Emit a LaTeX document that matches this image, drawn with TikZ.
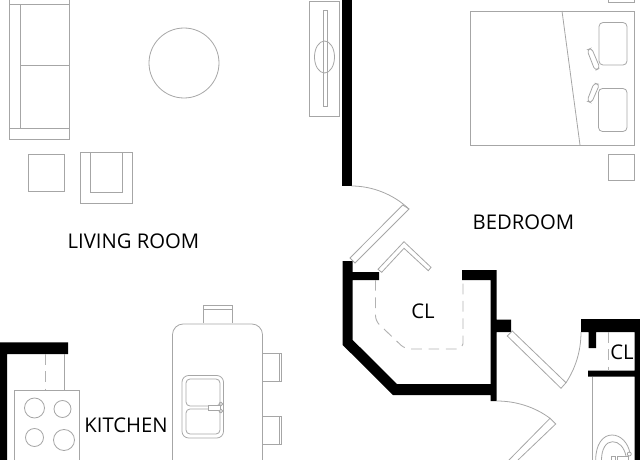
\documentclass[tikz,border=0pt]{standalone}
\usepackage{fontspec}
\setmainfont{Open Sans}
\tikzset{
    furn/.style={draw=black!35, line width=0.6pt},
    wall/.style={fill=black, draw=none},
    hidden/.style={draw=black!30, line width=0.7pt, dash pattern=on 8pt off 5pt},
    roomlabel/.style={font=\fontsize{15.2pt}{17pt}\selectfont, inner sep=0pt}
}
\begin{document}
\begin{tikzpicture}[x=0.75pt, y=-0.75pt]
    \useasboundingbox (0,0) rectangle (640,460);

    % walls
    \fill [wall] (342,0) rectangle (351.5,186);
    \fill [wall] (342.7,261) -- (352.7,261) -- (352.7,272) -- (379,272) -- (379,280) -- (352.7,280)
        -- (352.7,340) -- (397,384) -- (490.7,384) -- (490.7,280) -- (462,280) -- (462,270) -- (496.5,270)
        -- (496.5,319.5) -- (511,319.5) -- (511,332) -- (496.5,332) -- (496.5,401) -- (490.7,401)
        -- (490.7,395) -- (393,395) -- (342.7,345) -- cycle;
    \fill [wall] (581,319) -- (640,319) -- (640,460) -- (634.5,460) -- (634.5,376.7) -- (588,376.7)
        -- (588,370.7) -- (634.5,370.7) -- (634.5,332) -- (596,332) -- (596,348) -- (588.7,348)
        -- (588.7,332) -- (581,332) -- cycle;
    \fill [wall] (0,342.3) -- (68,342.3) -- (68,354) -- (7,354) -- (7,460) -- (0,460) -- cycle;

    % sofa
    \draw [furn] (9.5,0) -- (9.5,139) -- (69.5,139) -- (69.5,0);
    \draw [furn] (9.5,4) -- (69.5,4);
    \draw [furn] (20.5,4) -- (20.5,128);
    \draw [furn] (9.5,128) -- (69.5,128);
    \draw [furn] (21,65) -- (69.5,65);
    % table and chair
    \draw [furn] (184,63) circle [radius=35];
    \draw [furn] (28,154.5) rectangle (64,191);
    \draw [furn] (80,152) rectangle (132,203);
    \draw [furn] (90,152) -- (90,192) -- (122,192) -- (122,152);

    % tv
    \draw [furn] (309,1) rectangle (339.5,116);
    \draw [furn] (323,10) rectangle (327,106);
    \draw [furn] (324.5,57) ellipse [x radius=10, y radius=16];

    % bed
    \draw [furn] (470.5,11) rectangle (634,145);
    \draw [furn] (562,11) -- (580,145);
    \draw [furn, rounded corners=3pt] (599,22.5) rectangle (627,65);
    \draw [furn, rounded corners=3pt] (598.5,88.5) rectangle (627,131.5);
    \draw [furn, rounded corners=2.5pt] (587,50) -- (591.5,48) -- (600,68) -- (595,70.5) -- cycle;
    \draw [furn, rounded corners=2.5pt] (594,83) -- (599.5,84.5) -- (591.5,103) -- (587,101) -- cycle;
    \draw [furn] (608,154) rectangle (634,180);
    \draw [furn] (608.5,0) -- (608.5,2) -- (634,2) -- (634,0);

    % doors
    \draw [furn] (409,209) -- (402.7,205) -- (350,258) -- (355,263) -- cycle;
    \draw [furn] (351.5,186) .. controls (372,186) and (393,194) .. (409,209);
    \draw [furn] (512.3,331) -- (566,382.7) -- (561,388.3) -- (507.3,336) -- cycle;
    \draw [furn] (581,332) .. controls (581,352) and (575,369) .. (566,382.7);
    \draw [furn] (509,460) -- (550,418.3) -- (555.7,424) -- (518,460);
    \draw [furn] (496.7,401) .. controls (516,401) and (535,407) .. (550,418.3);

    % closet
    \draw [furn] (378,269.3) -- (404,241.7) -- (431,267.3) -- (428.3,270.7) -- (404,248.3) -- (381.7,272.3) -- cycle;
    \draw [hidden, rounded corners=4pt] (375.5,280) -- (375.5,321) -- (405,349) -- (463,349) -- (463,280);

    % bath
    \draw [hidden] (608.7,332) -- (608.7,370.7);
    \draw [furn] (592.3,377) -- (592.3,460);
    \draw [furn] (595.7,460) .. controls (595.7,444) and (603,435) .. (612,435) .. controls (621,435) and (628,443) .. (630,453);
    \draw [furn] (601.5,460) .. controls (601.5,449) and (606,441.7) .. (612.5,441.7) .. controls (619,441.7) and (624,447) .. (626,456);
    \draw [furn] (617,460) -- (617,456) -- (628,456) -- (628,460);
    \draw [furn] (611,456.5) rectangle (615,460);
    \draw [furn] (629.3,454) circle [radius=2];

    % kitchen
    \draw [hidden] (45,354) -- (45,390);
    \draw [furn] (64,354) -- (64,390);
    \draw [furn] (14,460) -- (14,390.3) -- (79.5,390.3) -- (79.5,460);
    \draw [furn] (34.5,408) circle [radius=10];
    \draw [furn] (62.5,409) circle [radius=8.5];
    \draw [furn] (34.5,437.5) circle [radius=9];
    \draw [furn] (64,440) circle [radius=10.5];

    % island
    \draw [furn, rounded corners=8pt] (172.5,470) -- (172.5,324) -- (262.5,324) -- (262.5,470);
    \draw [furn] (203,323) -- (203,305) -- (232,305) -- (232,323);
    \draw [furn] (203,309) -- (232,309);
    \foreach \y in {353,416} {
        \draw [furn] (262.5,\y) rectangle (281,\y+28);
        \draw [furn] (279,\y) -- (279,\y+28);
    }
    \draw [furn, rounded corners=5pt] (182,375.5) rectangle (223.5,438);
    \draw [furn, rounded corners=3pt] (186,379) rectangle (220,406);
    \draw [furn, rounded corners=3pt] (186,409) rectangle (220,434);
    \draw [furn, fill=white] (208,405) rectangle (220,410);
    \foreach \y in {404,411} {
        \draw [furn, fill=white] (221,\y) circle [radius=1.8];
    }

    % labels
    \node [roomlabel] (livingroom) at (133.5,241) {LIVING ROOM};
    \node [roomlabel] (bedroom) at (523.5,222) {BEDROOM};
    \node [roomlabel] (closet) at (423,311) {CL};
    \node [roomlabel] (closetb) at (622,352) {CL};
    \node [roomlabel] (kitchen) at (126,425) {KITCHEN};
\end{tikzpicture}
\end{document}
